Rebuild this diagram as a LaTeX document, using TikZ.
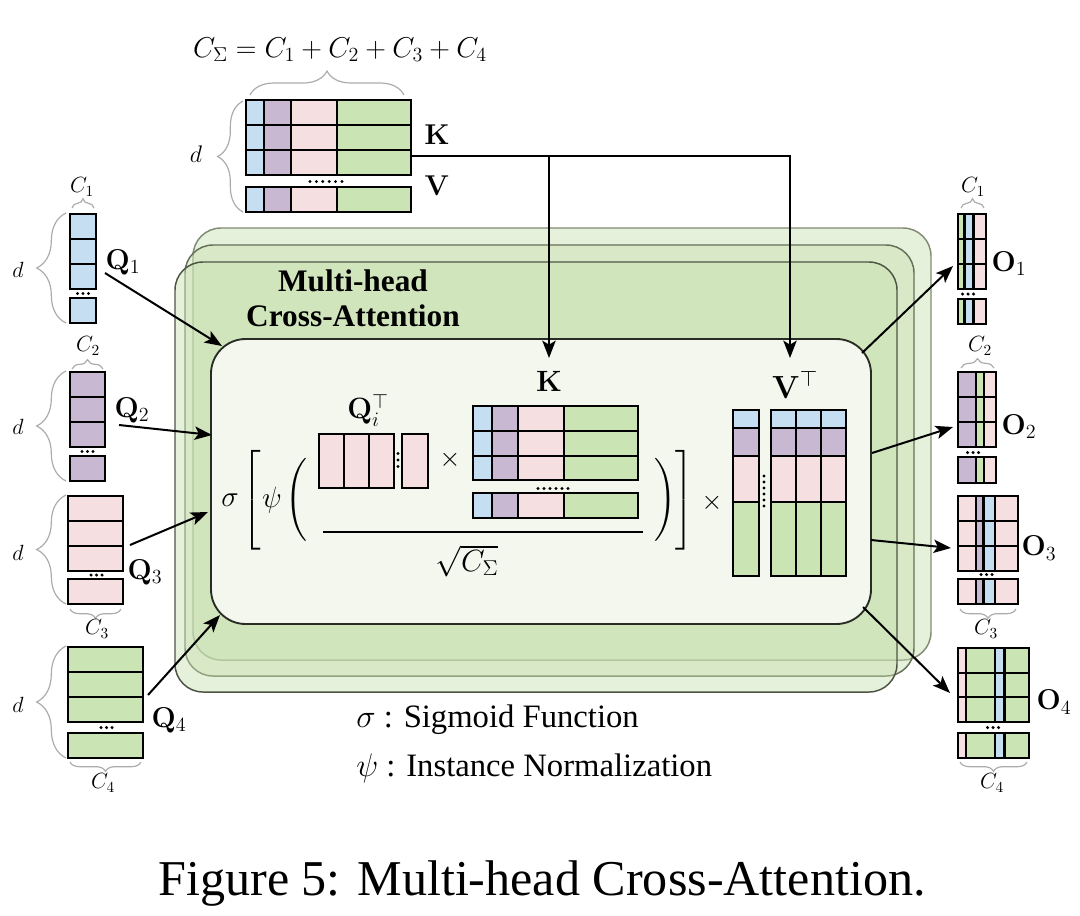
\RequirePackage{fix-cm}
\documentclass[tikz,border=0pt]{standalone}
\usepackage{amsmath}
\usepackage[no-math]{fontspec}
\setmainfont{Liberation Serif}
\usetikzlibrary{arrows.meta,decorations.pathreplacing,calc}
\definecolor{cb}{HTML}{C6DEF1}
\definecolor{cp}{HTML}{C9B8D2}
\definecolor{cr}{HTML}{F6DFE0}
\definecolor{cg}{HTML}{CBE4B4}
\definecolor{lay}{HTML}{C8E0B0}
\definecolor{innerfill}{HTML}{F4F7EE}
\tikzset{
  cell/.style={draw=black, line width=1.6pt},
  arr/.style={-{Stealth[length=13pt,width=10pt,inset=3pt]}, line width=1.5pt},
  brc/.style={decorate, decoration={brace, amplitude=#1}, draw=gray!65, line width=0.9pt},
  mlab/.style={font=\fontsize{21.5}{25}\selectfont, inner sep=0pt},
  slab/.style={font=\fontsize{16.5}{19}\selectfont, inner sep=0pt},
  flab/.style={font=\fontsize{20}{24}\selectfont, inner sep=0pt},
  txt/.style={font=\fontsize{24.5}{29}\selectfont, inner sep=0pt},
}
\begin{document}
\begin{tikzpicture}[x=0.75pt,y=-0.75pt]
\useasboundingbox (0,0) rectangle (1080,915);

% ---------- stacked green layers ----------
\draw[fill=lay, fill opacity=0.45, draw=black!35!lay!70!gray, line width=1.1pt, rounded corners=21pt] (193,228) rectangle (931,660);
\draw[fill=lay, fill opacity=0.45, draw=black!50!lay, line width=1.1pt, rounded corners=21pt] (185,245) rectangle (914,676);
\draw[fill=lay, fill opacity=0.45, draw=black!62!lay, line width=1.1pt, rounded corners=21pt] (175,262) rectangle (897,692);

% ---------- inner box ----------
\draw[fill=innerfill, draw=black!80!lay, line width=1.4pt, rounded corners=26pt] (211,339) rectangle (871,624);

\node[txt, font=\fontsize{23.5}{27}\selectfont\bfseries] (mh1) at (353,281) {Multi-head};
\node[txt, font=\fontsize{23.5}{27}\selectfont\bfseries] (mh2) at (353,316) {Cross-Attention};

% ---------- top K/V block ----------
\foreach \xa/\xb/\c in {246/264/cb,264/291/cp,291/337/cr,337/411/cg}
  \foreach \ya/\yb in {100/125,125/150,150/175,187/212}
    \draw[cell,fill=\c] (\xa,\ya) rectangle (\xb,\yb);
\foreach \i in {0,...,5} \fill (310+6.4*\i,181.5) circle[radius=1.2pt];
\draw[brc=18pt] (250,95) -- (404,95);
\draw[brc=19pt] (243,212) -- (243,101);
\node[mlab] (csum) at (340,50) {$C_\Sigma = C_1 + C_2 + C_3 + C_4$};
\node[slab, font=\fontsize{18}{21}\selectfont] (dkv) at (196,154) {$d$};
\node[mlab] (klab) at (437,135) {$\mathbf{K}$};
\node[mlab] (vlab) at (437,186) {$\mathbf{V}$};
\coordinate (kvR) at (411,156);
\coordinate (kIn) at (549,358);
\coordinate (vIn) at (790,358);
\draw[arr] (kvR) -| (kIn);
\draw[arr] (kvR) -| (vIn);

% ---------- Q columns ----------
\foreach \ya/\yb in {214/239,239/264,264/289,298/323} \draw[cell,fill=cb] (70,\ya) rectangle (96,\yb);
\foreach \ya/\yb in {372/397,397/422,422/447,456/481} \draw[cell,fill=cp] (70,\ya) rectangle (105,\yb);
\foreach \ya/\yb in {496/521,521/546,546/571,579/604} \draw[cell,fill=cr] (68,\ya) rectangle (123,\yb);
\foreach \ya/\yb in {647/672,672/697,697/722,733/758} \draw[cell,fill=cg] (68,\ya) rectangle (143,\yb);
\foreach \cx/\cy in {83/293.5,87.5/451.5,96.5/575,106.5/727.5}
  \foreach \i in {-1,0,1} \fill (\cx+5.5*\i,\cy) circle[radius=1.3pt];

\draw[brc=7pt] (72,208) -- (94,208);
\draw[brc=7pt] (72,369) -- (103,369);
\draw[brc=7pt] (121,609) -- (70,609);
\draw[brc=7pt] (141,762) -- (70,762);
\draw[brc=22pt] (66,323) -- (66,213);
\draw[brc=22pt] (66,481) -- (66,371);
\draw[brc=22pt] (66,604) -- (66,495);
\draw[brc=22pt] (66,758) -- (66,646);
\node[slab] (c1l) at (82,187) {$C_1$};
\node[slab] (c2l) at (88,346) {$C_2$};
\node[slab] (c3l) at (97,629) {$C_3$};
\node[slab] (c4l) at (103,783) {$C_4$};
\node[slab] (d1) at (18,270) {$d$};
\node[slab] (d2) at (18,427) {$d$};
\node[slab] (d3) at (18,553) {$d$};
\node[slab] (d4) at (18,705) {$d$};
\node[mlab] (q1) at (123,262) {$\mathbf{Q}_1$};
\node[mlab] (q2) at (132,410) {$\mathbf{Q}_2$};
\node[mlab] (q3) at (145,572) {$\mathbf{Q}_3$};
\node[mlab] (q4) at (169,720) {$\mathbf{Q}_4$};

\coordinate (q1s) at (105,273); \coordinate (q1e) at (222,346);
\coordinate (q2s) at (119,425); \coordinate (q2e) at (212,435);
\coordinate (q3s) at (130,545); \coordinate (q3e) at (208,512);
\coordinate (q4s) at (148,695); \coordinate (q4e) at (220,615);
\draw[arr] (q1s) -- (q1e);
\draw[arr] (q2s) -- (q2e);
\draw[arr] (q3s) -- (q3e);
\draw[arr] (q4s) -- (q4e);

% ---------- O columns ----------
\foreach \xa/\xb/\c in {958/964.5/cg,964.5/973.5/cb,973.5/986/cr}
  \foreach \ya/\yb in {214/239,239/264,264/289,299/324}
    \draw[cell,fill=\c] (\xa,\ya) rectangle (\xb,\yb);
\foreach \xa/\xb/\c in {958/976/cp,976/984/cg,984/996/cr}
  \foreach \ya/\yb in {372/397,397/422,422/447,457/483}
    \draw[cell,fill=\c] (\xa,\ya) rectangle (\xb,\yb);
\foreach \xa/\xb/\c in {958/976/cr,976/983.5/cp,983.5/995/cb,995/1018/cr}
  \foreach \ya/\yb in {496/521,521/546,546/571,579/604}
    \draw[cell,fill=\c] (\xa,\ya) rectangle (\xb,\yb);
\foreach \xa/\xb/\c in {958/966/cr,966/995/cg,995/1004.5/cb,1004.5/1029/cg}
  \foreach \ya/\yb in {648/673,673/697,697/722,733/758}
    \draw[cell,fill=\c] (\xa,\ya) rectangle (\xb,\yb);
\foreach \cx/\cy in {968/294,973/452.5,986.5/574.5,993/727.5}
  \foreach \i in {-1,0,1} \fill (\cx+5.5*\i,\cy) circle[radius=1.3pt];

\draw[brc=7pt] (961,208) -- (984,208);
\draw[brc=7pt] (961,368) -- (994,368);
\draw[brc=7pt] (1016,609) -- (960,609);
\draw[brc=7pt] (1027,762) -- (960,762);
\node[slab] (oc1) at (973,187) {$C_1$};
\node[slab] (oc2) at (980,346) {$C_2$};
\node[slab] (oc3) at (986,629) {$C_3$};
\node[slab] (oc4) at (992,783) {$C_4$};
\node[mlab] (o1) at (1009,264) {$\mathbf{O}_1$};
\node[mlab] (o2) at (1019,427) {$\mathbf{O}_2$};
\node[mlab] (o3) at (1039,548) {$\mathbf{O}_3$};
\node[mlab] (o4) at (1054,702) {$\mathbf{O}_4$};

\coordinate (o1s) at (862,353); \coordinate (o1e) at (953,266);
\coordinate (o2s) at (872,453); \coordinate (o2e) at (953,427);
\coordinate (o3s) at (871,540); \coordinate (o3e) at (951,548);
\coordinate (o4s) at (863,607); \coordinate (o4e) at (950,693);
\draw[arr] (o1s) -- (o1e);
\draw[arr] (o2s) -- (o2e);
\draw[arr] (o3s) -- (o3e);
\draw[arr] (o4s) -- (o4e);

% ---------- formula ----------
\node[flab, font=\fontsize{22}{26}\selectfont] (sig) at (230,500) {$\sigma$};
\node[flab] (lbr) at (253,500) {$\delimitershortfall=0pt\delimiterfactor=1000\left[\vcenter{\hbox{\rule{0pt}{66pt}}}\right.$};
\node[flab, font=\fontsize{22}{26}\selectfont] (psi) at (272,500) {$\psi$};
\node[flab] (lpar) at (297,500) {$\delimitershortfall=0pt\delimiterfactor=1000\left(\vcenter{\hbox{\rule{0pt}{55pt}}}\right.$};
\node[mlab, font=\fontsize{22}{26}\selectfont] (qit) at (368,410) {$\mathbf{Q}_i^{\top}$};
\foreach \xa/\xb in {319/344,344/369,369/394,402/428}
  \draw[cell,fill=cr] (\xa,434) rectangle (\xb,488);
\foreach \i in {-1,0,1} \fill (398,460+6.5*\i) circle[radius=1.2pt];
\node[mlab, font=\fontsize{20}{24}\selectfont] (tim1) at (450,460) {$\times$};
\node[mlab, font=\fontsize{22}{26}\selectfont] (kin) at (549,381) {$\mathbf{K}$};
\foreach \xa/\xb/\c in {473/492/cb,492/518/cp,518/564/cr,564/638/cg}
  \foreach \ya/\yb in {406/431,431/456,456/480,493/518}
    \draw[cell,fill=\c] (\xa,\ya) rectangle (\xb,\yb);
\foreach \i in {0,...,5} \fill (538+6*\i,488.5) circle[radius=1.2pt];
\draw[line width=1.2pt] (323,532) -- (643,532);
\node[mlab, font=\fontsize{23}{27}\selectfont] (sq) at (467,561) {$\sqrt{C_\Sigma}$};
\node[flab] (rpar) at (665,500) {$\delimitershortfall=0pt\delimiterfactor=1000\left.\vcenter{\hbox{\rule{0pt}{55pt}}}\right)$};
\node[flab] (rbr) at (684,500) {$\delimitershortfall=0pt\delimiterfactor=1000\left.\vcenter{\hbox{\rule{0pt}{66pt}}}\right]$};
\node[mlab, font=\fontsize{20}{24}\selectfont] (tim2) at (712,503) {$\times$};
\node[mlab, font=\fontsize{24}{28}\selectfont] (vt) at (795,385) {$\mathbf{V}^{\top}$};
\foreach \ya/\yb/\c in {410/428/cb,428/456/cp,456/502/cr,502/576/cg}{
  \draw[cell,fill=\c] (733,\ya) rectangle (759,\yb);
  \foreach \xa/\xb in {771/796,796/821,821/846}
    \draw[cell,fill=\c] (\xa,\ya) rectangle (\xb,\yb);
}
\foreach \i in {0,...,5} \fill (764,476+6*\i) circle[radius=1.2pt];

% ---------- legend and caption ----------
\node[txt, anchor=west] (leg1) at (356,720) {$\sigma$ : Sigmoid Function};
\node[txt, anchor=west] (leg2) at (356,768) {$\psi$ : Instance Normalization};
\node[inner sep=0pt, anchor=base, font=\fontsize{37.6}{44}\selectfont] (cap) at (542,895) {Figure 5: Multi-head Cross-Attention.};
\end{tikzpicture}
\end{document}
